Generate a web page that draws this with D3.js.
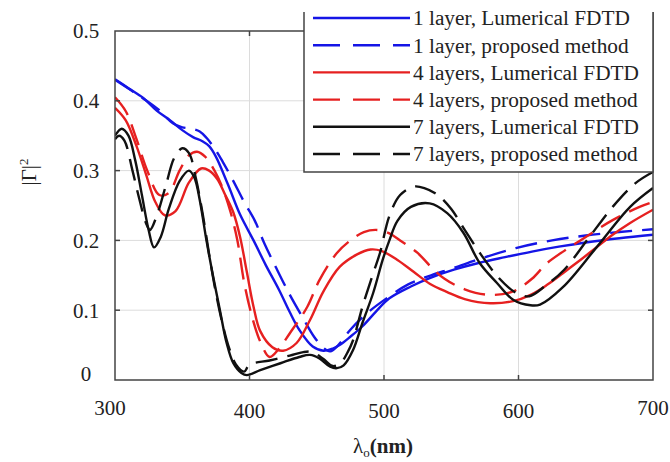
<!DOCTYPE html>
<html>
<head>
<meta charset="utf-8">
<script src="https://cdn.jsdelivr.net/npm/d3@7"></script>
<style>
  html, body { margin: 0; padding: 0; background: #fff; }
  svg { display: block; }
</style>
</head>
<body>
<svg id="chart" width="670" height="462" font-family="'Liberation Serif', 'DejaVu Serif', serif"></svg>
<script>
// ---- Data ----
const xTicks = [300, 400, 500, 600, 700];
const yTicks = [0, 0.1, 0.2, 0.3, 0.4, 0.5];
const yTickLabels = ["0", "0.1", "0.2", "0.3", "0.4", "0.5"];

const oneLayerFdtd = [[300,0.431],[310,0.418],[321,0.404],[331,0.386],[341,0.372],[350,0.358],[358,0.348],[365,0.342],[370,0.335],[375,0.32],[384,0.28],[393,0.237],[403,0.2],[412,0.165],[422,0.129],[430,0.097],[437,0.072],[447,0.048],[455,0.042],[462,0.045],[467,0.05],[475,0.062],[484,0.077],[494,0.098],[504,0.117],[520,0.134],[534,0.146],[552,0.158],[571,0.168],[590,0.176],[610,0.184],[630,0.191],[650,0.197],[675,0.203],[700,0.208]];
const oneLayerProposed = [[300,0.43],[312,0.415],[322,0.402],[332,0.388],[343,0.368],[350,0.362],[357,0.36],[363,0.356],[368,0.347],[374,0.332],[380,0.313],[388,0.285],[396,0.255],[404,0.228],[411,0.196],[420,0.16],[430,0.122],[440,0.088],[448,0.062],[455,0.046],[460,0.041],[466,0.05],[475,0.072],[487,0.095],[499,0.113],[518,0.137],[535,0.15],[551,0.16],[572,0.174],[598,0.189],[625,0.2],[650,0.207],[675,0.212],[700,0.216]];
const fourLayersFdtd = [[300,0.39],[308,0.372],[316,0.335],[323,0.295],[330,0.255],[337,0.236],[345,0.242],[355,0.283],[364,0.303],[370,0.3],[376,0.288],[382,0.265],[388,0.24],[393,0.205],[398,0.155],[403,0.105],[408,0.07],[417,0.047],[425,0.042],[435,0.053],[445,0.086],[455,0.127],[467,0.162],[480,0.18],[490,0.187],[498,0.185],[510,0.172],[522,0.155],[534,0.138],[547,0.126],[560,0.116],[579,0.11],[596,0.113],[609,0.122],[621,0.136],[633,0.153],[646,0.172],[658,0.19],[670,0.208],[683,0.225],[700,0.244]];
const fourLayersProposed = [[300,0.405],[308,0.385],[316,0.345],[324,0.3],[333,0.265],[340,0.268],[348,0.3],[355,0.322],[361,0.327],[367,0.32],[374,0.3],[380,0.275],[386,0.24],[391,0.2],[396,0.14],[402,0.09],[408,0.055],[415,0.033],[422,0.045],[430,0.067],[443,0.105],[452,0.143],[465,0.182],[475,0.2],[485,0.212],[495,0.215],[504,0.21],[512,0.2],[525,0.182],[535,0.162],[545,0.145],[560,0.13],[578,0.122],[596,0.127],[610,0.145],[621,0.167],[634,0.185],[646,0.2],[658,0.215],[670,0.229],[690,0.248],[700,0.255]];
const sevenLayersFdtd = [[300,0.35],[305,0.36],[310,0.35],[315,0.315],[320,0.265],[325,0.215],[329,0.19],[334,0.205],[340,0.245],[348,0.285],[355,0.3],[359,0.29],[363,0.258],[368,0.2],[373,0.148],[378,0.1],[383,0.053],[388,0.024],[394,0.01],[398,0.007],[408,0.014],[423,0.024],[437,0.033],[445,0.036],[452,0.031],[460,0.019],[465,0.017],[470,0.021],[477,0.043],[484,0.082],[492,0.125],[499,0.172],[504,0.2],[510,0.228],[520,0.248],[534,0.253],[547,0.239],[559,0.211],[571,0.168],[584,0.139],[596,0.115],[609,0.107],[616,0.108],[633,0.133],[658,0.19],[683,0.248],[700,0.275]];
const sevenLayersProposed = [[300,0.345],[303,0.35],[307,0.343],[313,0.3],[318,0.26],[323,0.225],[326,0.215],[331,0.235],[338,0.28],[344,0.318],[350,0.332],[355,0.325],[360,0.29],[365,0.24],[370,0.18],[375,0.125],[380,0.08],[385,0.045],[390,0.022],[396,0.012],[400,0.022],[415,0.028],[430,0.035],[440,0.04],[447,0.04],[455,0.03],[462,0.02],[468,0.025],[473,0.04],[477,0.057],[484,0.105],[492,0.153],[497,0.182],[504,0.235],[512,0.265],[522,0.277],[530,0.275],[540,0.265],[550,0.245],[560,0.215],[572,0.18],[585,0.147],[598,0.125],[608,0.12],[620,0.135],[634,0.158],[652,0.203],[670,0.248],[687,0.282],[700,0.298]];

const seriesNames = [
  "1 layer, Lumerical FDTD", "1 layer, proposed method",
  "4 layers, Lumerical FDTD", "4 layers, proposed method",
  "7 layers, Lumerical FDTD", "7 layers, proposed method"
];
const seriesValues = [oneLayerFdtd, oneLayerProposed, fourLayersFdtd, fourLayersProposed, sevenLayersFdtd, sevenLayersProposed];

// ---- Styles ----
const BLUE = "#1515e6", RED = "#e62020", BLACK = "#111";
const seriesColors = [BLUE, BLUE, RED, RED, BLACK, BLACK];
const DASH = "22,10";

const plot = { left: 115, right: 653, top: 31, bottom: 380 };
const legendBox = { left: 304, top: 12, bottom: 172 };

const svg = d3.select("#chart");
const x = d3.scaleLinear().domain([300, 700]).range([plot.left, plot.right]);
const y = d3.scaleLinear().domain([0, 0.5]).range([plot.bottom, plot.top]);

// grid
const grid = svg.append("g").attr("stroke", "#dcdcdc").attr("stroke-width", 1);
grid.selectAll("line.gy").data(yTicks.slice(1, -1)).join("line")
  .attr("x1", plot.left).attr("x2", plot.right)
  .attr("y1", d => y(d)).attr("y2", d => y(d));
grid.selectAll("line.gx").data(xTicks.slice(1, -1)).join("line")
  .attr("y1", plot.top).attr("y2", plot.bottom)
  .attr("x1", d => x(d)).attr("x2", d => x(d));

// curves
svg.append("clipPath").attr("id", "clip").append("rect")
  .attr("x", plot.left).attr("y", plot.top - 2)
  .attr("width", plot.right - plot.left).attr("height", plot.bottom - plot.top + 2);

const line = d3.line()
  .x(d => x(d[0])).y(d => y(d[1]))
  .curve(d3.curveCatmullRom.alpha(0.5));

svg.append("g").attr("clip-path", "url(#clip)")
  .selectAll("path").data(seriesValues).join("path")
  .attr("d", line)
  .attr("fill", "none")
  .attr("stroke", (d, i) => seriesColors[i])
  .attr("stroke-width", 2.4)
  .attr("stroke-dasharray", (d, i) => i % 2 ? DASH : null);

// axes frame
const axisG = svg.append("g").attr("stroke", "#444").attr("stroke-width", 1.5).attr("fill", "none");
axisG.append("path")
  .attr("d", `M${legendBox.left},${plot.top}H${plot.left}V${plot.bottom}H${plot.right}V${legendBox.top}`);

// tick marks inward
const tk = 5;
axisG.selectAll("line.ty").data(yTicks.slice(1, -1)).join("line")
  .attr("x1", plot.left).attr("x2", plot.left + tk)
  .attr("y1", d => y(d)).attr("y2", d => y(d));
axisG.selectAll("line.tyr").data(yTicks.slice(1, -1)).join("line")
  .attr("x1", plot.right).attr("x2", plot.right - tk)
  .attr("y1", d => y(d)).attr("y2", d => y(d));
axisG.selectAll("line.tx").data(xTicks.slice(1, -1)).join("line")
  .attr("y1", plot.bottom).attr("y2", plot.bottom - tk)
  .attr("x1", d => x(d)).attr("x2", d => x(d));
axisG.append("line")
  .attr("x1", x(400)).attr("x2", x(400))
  .attr("y1", plot.top).attr("y2", plot.top + tk);

// tick labels
svg.append("g").attr("font-size", 21).attr("fill", "#222").attr("text-anchor", "middle")
  .selectAll("text").data(yTicks).join("text")
  .attr("x", 86)
  .attr("y", d => Math.min(y(d), 374))
  .attr("dy", "0.35em")
  .text((d, i) => yTickLabels[i]);

svg.append("g").attr("font-size", 21).attr("fill", "#222").attr("text-anchor", "middle")
  .selectAll("text").data(xTicks).join("text")
  .attr("x", d => d === 300 ? x(d) - 5 : x(d))
  .attr("y", d => d === 300 || d === 700 ? 408 : 411)
  .attr("dy", "0.35em")
  .text(d => d);

// axis titles
const xt = svg.append("text").attr("x", 383).attr("y", 453)
  .attr("text-anchor", "middle").attr("font-size", 21).attr("font-weight", "bold").attr("fill", "#222");
xt.append("tspan").attr("font-weight", "normal").text("λ");
xt.append("tspan").attr("font-size", 13).attr("dy", 4).attr("font-weight", "normal").text("o");
xt.append("tspan").attr("dy", -4).text("(nm)");

const yt = svg.append("text").attr("transform", "translate(36,172) rotate(-90)")
  .attr("text-anchor", "middle").attr("font-size", 21).attr("fill", "#222");
yt.append("tspan").text("|Γ|");
yt.append("tspan").attr("font-size", 13).attr("dy", -8).text("2");

// legend
const lg = svg.append("g");
lg.append("rect")
  .attr("x", legendBox.left).attr("y", legendBox.top)
  .attr("width", plot.right - legendBox.left).attr("height", legendBox.bottom - legendBox.top)
  .attr("fill", "#fff");
lg.append("path")
  .attr("d", `M${legendBox.left},${legendBox.top}V${legendBox.bottom}H${plot.right}V${legendBox.top}`)
  .attr("fill", "none").attr("stroke", "#444").attr("stroke-width", 1.5);

const rowY = d3.scaleLinear().domain([0, 5]).range([18, 154]);
const rows = lg.selectAll("g.row").data(seriesNames).join("g")
  .attr("transform", (d, i) => `translate(0,${rowY(i)})`);
rows.append("line")
  .attr("x1", 313).attr("x2", 410).attr("y1", 0).attr("y2", 0)
  .attr("stroke", (d, i) => seriesColors[i])
  .attr("stroke-width", 2.4)
  .attr("stroke-dasharray", (d, i) => i % 2 ? "27,13" : null);
const labels = rows.append("text")
  .attr("x", 413).attr("y", 0).attr("dy", "0.35em")
  .attr("font-size", 20).attr("fill", "#222")
  .text(d => d);

// fit legend font so the first label spans about 217px like the reference
const w0 = labels.node().getComputedTextLength();
if (w0 > 0) labels.attr("font-size", Math.min(23, 20 * 217 / w0));
</script>
</body>
</html>
